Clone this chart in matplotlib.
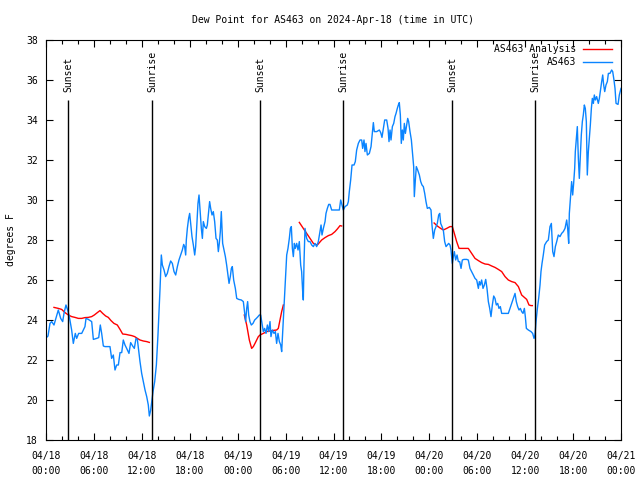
import numpy as np
import pandas as pd
import matplotlib
matplotlib.use('Agg')
import matplotlib.pyplot as plt
import matplotlib.dates as mdates

plt.rcParams['font.family'] = ['DejaVu Sans Mono']
plt.rcParams['font.size'] = 7

# hours after 2024-04-18 00:00 UTC and dew point (F) for the station
obs_hours = [0.0, 0.25, 0.5, 0.71, 1.0, 1.54, 1.84, 2.09, 2.25, 2.5, 2.71, 2.92, 3.21, 3.42, 3.67, 3.84,
             4.09, 4.47, 4.88, 5.01, 5.30, 5.72, 5.93, 6.34, 6.60, 6.80, 6.97, 7.18, 7.39, 8.01, 8.22,
             8.43, 8.64, 8.85, 9.06, 9.27, 9.48, 9.68, 9.89, 10.10, 10.39, 10.60, 10.85, 11.06, 11.27,
             11.44, 11.60, 11.77, 11.98, 12.19, 12.40, 12.61, 12.81, 12.94, 13.11, 13.27, 13.40, 13.61,
             13.82, 14.02, 14.15, 14.28, 14.44, 14.57, 14.78, 14.98, 15.19, 15.40, 15.61, 15.82, 16.03,
             16.24, 16.45, 16.65, 16.86, 17.07, 17.24, 17.36, 17.49, 17.57, 17.70, 17.86, 17.99, 18.12,
             18.28, 18.45, 18.62, 18.74, 18.91, 19.03, 19.16, 19.28, 19.45, 19.58, 19.70, 19.87, 20.08,
             20.20, 20.37, 20.49, 20.62, 20.79, 20.95, 21.12, 21.29, 21.45, 21.58, 21.70, 21.83, 21.95,
             22.12, 22.29, 22.46, 22.62, 22.79, 22.92, 23.08, 23.21, 23.33, 23.50, 23.71, 23.88, 24.13,
             24.46, 24.71, 24.88, 25.00, 25.13, 25.25, 25.38, 25.54, 25.71, 25.92, 26.13, 26.34, 26.55,
             26.71, 26.88, 27.05, 27.21, 27.38, 27.55, 27.72, 27.88, 28.05, 28.17, 28.34, 28.55, 28.72,
             28.88, 29.05, 29.22, 29.39, 29.51, 29.64, 29.80, 29.97, 30.14, 30.30, 30.47, 30.60, 30.72,
             30.85, 30.97, 31.10, 31.22, 31.39, 31.56, 31.72, 31.89, 32.01, 32.14, 32.22, 32.31, 32.43,
             32.64, 32.85, 33.06, 33.27, 33.48, 33.68, 33.89, 34.10, 34.31, 34.44, 34.56, 34.73, 34.94,
             35.06, 35.23, 35.40, 35.56, 35.77, 35.98, 36.40, 36.73, 36.90, 37.07, 37.23, 37.44, 37.73,
             37.86, 37.98, 38.15, 38.32, 38.57, 38.73, 38.90, 39.11, 39.32, 39.53, 39.65, 39.82, 39.94,
             40.07, 40.24, 40.49, 40.70, 40.82, 40.99, 41.11, 41.41, 41.74, 41.91, 42.07, 42.24, 42.41,
             42.66, 42.83, 42.95, 43.08, 43.20, 43.37, 43.54, 43.70, 43.83, 43.99, 44.12, 44.24, 44.37,
             44.49, 44.62, 44.74, 44.87, 45.00, 45.16, 45.29, 45.41, 45.58, 45.75, 45.91, 46.04, 46.12,
             46.25, 46.37, 46.54, 46.75, 46.92, 47.08, 47.25, 47.42, 47.58, 47.75, 48.00, 48.21, 48.33,
             48.50, 48.67, 48.84, 49.00, 49.17, 49.30, 49.42, 49.59, 49.75, 49.92, 50.09, 50.25, 50.42,
             50.59, 50.71, 50.88, 51.01, 51.13, 51.30, 51.47, 51.63, 51.80, 51.97, 52.13, 52.34, 52.68,
             52.88, 53.09, 53.30, 53.51, 53.72, 53.93, 54.14, 54.26, 54.39, 54.55, 54.72, 54.89, 55.06,
             55.22, 55.39, 55.56, 55.72, 55.89, 56.06, 56.22, 56.39, 56.56, 56.72, 56.89, 57.06, 57.48,
             57.89, 58.10, 58.31, 58.52, 58.73, 58.89, 59.06, 59.23, 59.40, 59.56, 59.73, 59.90, 60.02,
             60.15, 60.40, 60.73, 60.94, 61.11, 61.23, 61.36, 61.53, 61.69, 61.86, 61.98, 62.11, 62.27,
             62.44, 62.69, 62.90, 63.11, 63.28, 63.45, 63.61, 63.78, 63.95, 64.15, 64.36, 64.57, 64.78,
             64.99, 65.20, 65.32, 65.45, 65.53, 65.70, 65.82, 65.95, 66.07, 66.20, 66.28, 66.41, 66.53,
             66.66, 66.78, 66.91, 67.03, 67.16, 67.28, 67.41, 67.53, 67.66, 67.78, 67.91, 68.04, 68.16,
             68.29, 68.41, 68.54, 68.66, 68.79, 68.95, 69.16, 69.29, 69.46, 69.58, 69.71, 69.83, 69.96,
             70.12, 70.29, 70.42, 70.62, 70.83, 70.96, 71.12, 71.25, 71.38, 71.63, 71.79, 72.0]
obs_dewpt = [23.1, 23.2, 23.83, 23.92, 23.75, 24.5, 24.08, 23.92, 24.33, 24.75, 24.5, 24.17, 23.5, 22.83,
             23.33, 23.08, 23.33, 23.33, 23.67, 24.08, 24.03, 23.92, 23.03, 23.08, 23.12, 23.75, 23.33,
             22.7, 22.67, 22.67, 22.08, 22.25, 21.5, 21.75, 21.75, 22.37, 22.37, 23.0, 22.75, 22.58,
             22.33, 22.87, 22.7, 22.58, 23.08, 23.03, 22.5, 21.92, 21.33, 20.92, 20.5, 20.17, 19.75,
             19.2, 19.5, 20.0, 20.42, 20.92, 21.75, 23.25, 24.42, 25.58, 27.25, 26.75, 26.5, 26.17,
             26.33, 26.67, 26.95, 26.83, 26.42, 26.25, 26.67, 27.0, 27.25, 27.5, 27.78, 27.67, 27.25,
             28.0, 28.58, 29.08, 29.33, 28.83, 28.17, 27.75, 27.25, 27.67, 29.0, 29.83, 30.25, 29.58,
             28.58, 28.08, 28.92, 28.67, 28.58, 28.75, 29.42, 29.92, 29.58, 29.25, 29.42, 28.92, 28.08,
             28.0, 27.42, 27.83, 28.42, 29.42, 27.83, 27.5, 27.17, 26.75, 26.25, 25.83, 26.17, 26.58,
             26.67, 26.0, 25.58, 25.08, 25.03, 25.0, 24.92, 24.33, 23.92, 24.58, 24.92, 24.25, 23.92,
             23.75, 23.83, 24.0, 24.08, 24.17, 24.25, 24.25, 23.83, 23.42, 23.58, 23.33, 23.75, 23.42,
             23.92, 23.17, 23.5, 23.33, 23.42, 22.83, 23.33, 22.92, 22.75, 22.42, 23.42, 24.75, 26.0,
             27.25, 27.58, 28.08, 28.58, 28.67, 27.58, 27.17, 27.83, 27.58, 27.83, 27.5, 27.92, 26.75,
             26.42, 25.42, 25.0, 26.92, 28.58, 28.08, 27.92, 27.92, 27.75, 27.67, 27.83, 27.67, 27.92,
             28.42, 28.75, 28.25, 28.58, 28.92, 29.33, 29.58, 29.78, 29.78, 29.5, 29.5, 29.5, 29.5,
             30.0, 29.75, 29.5, 29.67, 29.75, 29.92, 30.42, 31.0, 31.75, 31.75, 31.92, 32.5, 32.83,
             33.0, 33.0, 32.58, 33.0, 32.42, 32.83, 32.25, 32.33, 32.67, 33.17, 33.87, 33.42, 33.42,
             33.5, 33.37, 33.13, 33.58, 34.0, 34.0, 33.58, 32.92, 33.5, 33.0, 33.67, 33.83, 34.17,
             34.33, 34.58, 34.75, 34.87, 34.25, 32.83, 33.5, 33.0, 33.83, 33.33, 33.75, 34.08, 33.92,
             33.42, 33.0, 32.25, 31.67, 30.17, 31.0, 31.67, 31.5, 31.25, 30.92, 30.75, 30.67, 30.33,
             29.92, 29.58, 29.63, 29.5, 28.75, 28.08, 28.5, 28.67, 28.83, 29.25, 29.33, 28.83, 28.67,
             28.5, 27.92, 27.67, 27.75, 27.83, 27.75, 27.5, 26.83, 27.17, 27.42, 27.0, 27.25, 26.92,
             26.92, 26.58, 27.0, 27.03, 27.03, 27.0, 26.58, 26.42, 26.25, 26.08, 26.0, 25.58, 25.92,
             25.75, 26.0, 25.58, 25.75, 26.03, 25.58, 24.92, 24.58, 24.17, 24.75, 25.2, 25.08, 24.75,
             24.83, 24.58, 24.67, 24.33, 24.33, 24.33, 24.58, 24.83, 25.08, 25.33, 24.92, 24.67, 24.5,
             24.58, 24.42, 24.33, 24.58, 24.17, 23.58, 23.5, 23.42, 23.33, 23.08, 23.25, 23.92, 24.58,
             25.08, 25.75, 26.42, 26.83, 27.25, 27.75, 27.92, 28.0, 28.67, 28.83, 27.42, 27.17, 27.67,
             27.92, 28.25, 28.17, 28.33, 28.42, 28.58, 29.0, 28.58, 27.83, 29.33, 30.25, 30.92, 30.25,
             30.83, 31.58, 32.42, 33.08, 33.67, 32.08, 31.08, 32.25, 33.25, 33.92, 34.25, 34.75, 34.58,
             33.92, 31.25, 32.42, 33.08, 33.75, 34.58, 35.08, 34.83, 35.25, 35.0, 35.17, 34.83, 35.08,
             35.58, 35.92, 36.25, 35.75, 35.42, 35.75, 35.92, 36.33, 36.33, 36.5, 36.42, 36.0, 35.58,
             34.83, 34.78, 35.25, 35.58]

# analysis series, NaN marks a gap
ana_hours = [1.0, 1.54, 1.96, 2.38, 2.80, 3.21, 3.63, 4.05, 4.47, 4.88, 5.30, 5.72, 6.05, 6.43, 6.76,
             7.10, 7.47, 7.80, 8.14, 8.51, 8.93, 9.27, 9.60, 10.02, 10.35, 10.73, 11.10, 11.44, 11.77,
             12.19, 12.61, 12.94, 13.0,
             24.83, 25.13, 25.46, 25.75, 25.96, 26.17, 26.38, 26.59, 26.80, 27.21, 27.63, 28.05, 28.46,
             28.88, 29.09, 29.30, 29.51, 29.72, 29.75,
             31.72, 32.22, 32.64, 33.06, 33.48, 33.98, 34.52, 34.94, 35.36, 35.77, 36.19, 36.48, 36.82,
             37.02, 37.1,
             48.6, 49.0, 49.42, 49.75, 50.17, 50.59, 50.88, 51.13, 51.42, 51.72, 52.26, 52.88, 53.30,
             53.72, 54.14, 54.55, 54.97, 55.39, 55.81, 56.22, 56.64, 57.06, 57.48, 57.89, 58.31, 58.73,
             59.15, 59.56, 59.90, 60.19, 60.48, 60.73, 60.90]
ana_dewpt = [24.63, 24.58, 24.53, 24.37, 24.25, 24.17, 24.13, 24.08, 24.08, 24.12, 24.13, 24.17, 24.25,
             24.37, 24.47, 24.33, 24.2, 24.13, 23.97, 23.83, 23.75, 23.53, 23.3, 23.28, 23.25, 23.22,
             23.17, 23.08, 23.0, 22.95, 22.92, 22.88, np.nan,
             24.25, 23.75, 23.0, 22.58, 22.67, 22.83, 23.0, 23.17, 23.25, 23.33, 23.42, 23.45, 23.48,
             23.5, 23.58, 24.0, 24.42, 24.75, np.nan,
             28.88, 28.58, 28.33, 28.08, 27.83, 27.75, 28.0, 28.12, 28.22, 28.28, 28.42, 28.55, 28.72,
             28.7, np.nan,
             28.85, 28.7, 28.58, 28.5, 28.58, 28.67, 28.67, 28.33, 27.92, 27.58, 27.58, 27.58, 27.33,
             27.08, 26.97, 26.87, 26.8, 26.78, 26.7, 26.63, 26.53, 26.42, 26.17, 26.0, 25.92, 25.87,
             25.67, 25.25, 25.13, 25.03, 24.75, 24.72, 24.72]

event_hours = [2.80, 13.28, 26.80, 37.23, 50.88, 61.25]
event_names = ['Sunset', 'Sunrise', 'Sunset', 'Sunrise', 'Sunset', 'Sunrise']

start = pd.Timestamp('2024-04-18 00:00')
def to_time(h):
    return start + pd.to_timedelta(np.array(h, dtype=float), unit='h')

fig = plt.figure(figsize=(6.4, 4.8), dpi=100)
ax = fig.add_axes([46/640, 40/480, 575/640, 400/480])

ax.plot(to_time(ana_hours), ana_dewpt, color='#ff0000', lw=1.0, label='AS463 Analysis')
ax.plot(to_time(obs_hours), obs_dewpt, color='#0a84ff', lw=1.0, label='AS463')

ev = to_time(event_hours)
ax.vlines(ev, 18, 35, color='black', lw=1.0)
for t, name in zip(ev, event_names):
    ax.text(t, 35.4, name, rotation=90, ha='center', va='bottom', fontsize=7)

ax.set_ylim(18, 38)
ax.set_xlim(start, start + pd.Timedelta(hours=72))
ax.set_yticks(np.arange(18, 39, 2))
ax.xaxis.set_major_locator(mdates.HourLocator(byhour=range(0, 24, 6)))
ax.xaxis.set_minor_locator(mdates.HourLocator(byhour=range(0, 24, 2)))
ax.xaxis.set_major_formatter(mdates.DateFormatter('%m/%d\n%H:%M'))
ax.tick_params(which='both', direction='in', top=True, right=True, labelsize=7)
ax.tick_params(which='major', length=5, width=0.8)
ax.tick_params(which='minor', length=3, width=0.8)
ax.tick_params(axis='x', pad=8)
ax.tick_params(axis='y', pad=6)
for lab in ax.get_xticklabels():
    lab.set_linespacing(1.6)
for sp in ax.spines.values():
    sp.set_linewidth(0.8)

ax.set_ylabel('degrees F', fontsize=7)
ax.yaxis.set_label_coords(-0.053, 0.5)

fig.text(333.5/640, 1 - 20/480, 'Dew Point for AS463 on 2024-Apr-18 (time in UTC)',
         ha='center', va='center', fontsize=7)

ax.legend(loc='upper right', bbox_to_anchor=(1 - 9/575, 1 - 4/400), frameon=False,
          markerfirst=False, borderpad=0, borderaxespad=0, handlelength=3.0,
          handletextpad=0.7, labelspacing=0.35, fontsize=7)

fig.savefig('out.png', dpi=100)
